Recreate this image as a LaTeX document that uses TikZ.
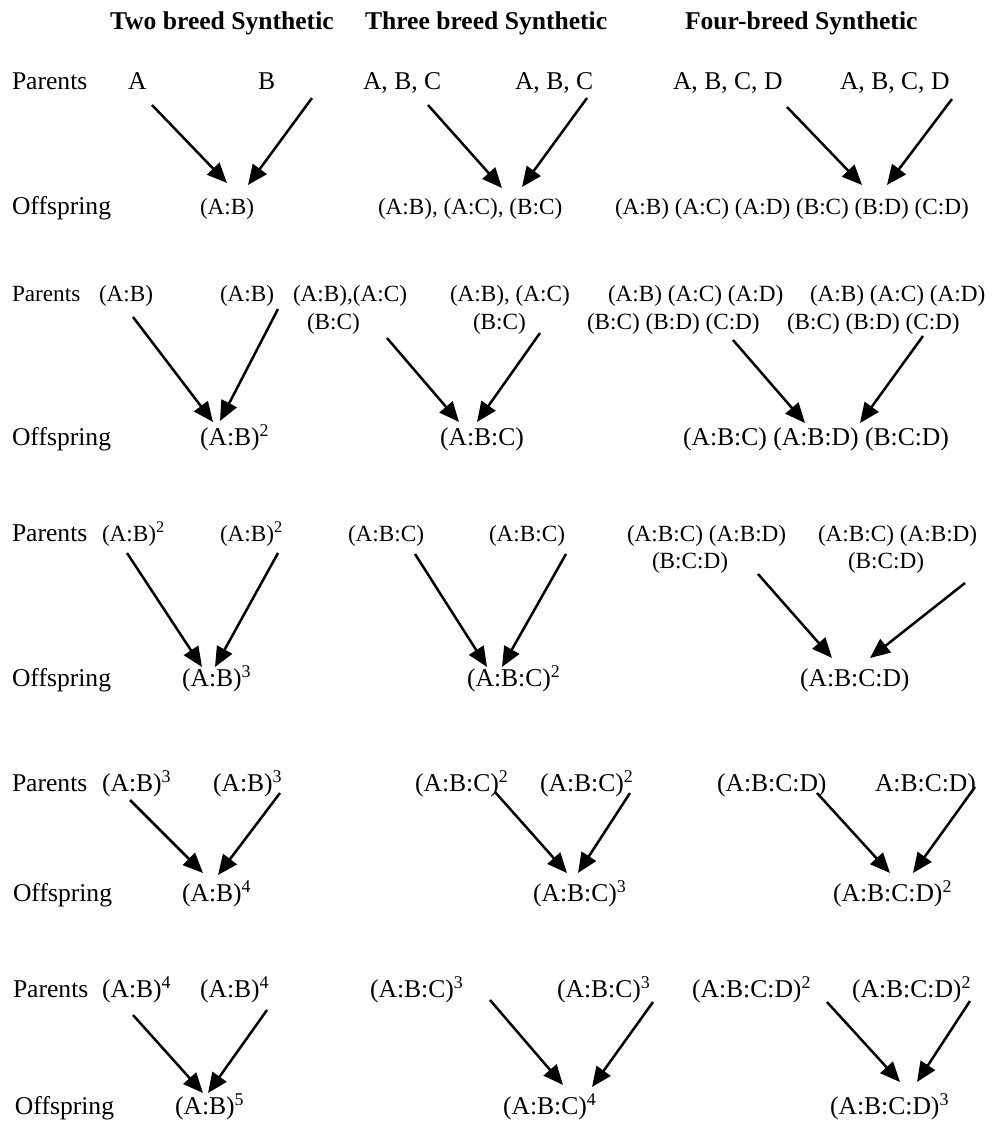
\documentclass[tikz,border=0pt]{standalone}
\usepackage{fontspec}
\setmainfont{Liberation Serif}
\usetikzlibrary{arrows.meta}
\begin{document}
\begin{tikzpicture}[x=0.5pt,y=-0.5pt,
  lbl/.style={anchor=base west,inner sep=0pt,outer sep=0pt},
  hd/.style={lbl,font=\fontsize{12.8}{14}\selectfont\bfseries},
  big/.style={lbl,font=\fontsize{12.8}{14}\selectfont},
  sm/.style={lbl,font=\fontsize{11.6}{13}\selectfont},
  arr/.style={line width=1.25pt,-{Triangle[length=10pt,width=8.5pt]}}]
\useasboundingbox (0,0) rectangle (992,1121);

% column headings
\node[hd] (h2) at (110,29) {Two breed Synthetic};
\node[hd] (h3) at (365,29) {Three breed Synthetic};
\node[hd] (h4) at (685,29) {Four-breed Synthetic};

% ---------- generation 1 ----------
\node[big] (P1) at (12,89) {Parents};
\node[big] (p1a) at (128,89) {A};
\node[big] (p1b) at (258,89) {B};
\node[big] (p1c) at (363,89) {A, B, C};
\node[big] (p1d) at (515,89) {A, B, C};
\node[big] (p1e) at (673,89) {A, B, C, D};
\node[big] (p1f) at (840,89) {A, B, C, D};
\node[big] (O1) at (12,214) {Offspring};
\node[sm] (o1a) at (200,214) {(A:B)};
\node[sm] (o1b) at (378,214) {(A:B), (A:C), (B:C)};
\node[sm] (o1c) at (615,214) {(A:B) (A:C) (A:D) (B:C) (B:D) (C:D)};

\coordinate (s1a) at (152,105); \coordinate (e1a) at (227,183);
\coordinate (s1b) at (312,98);  \coordinate (e1b) at (248,185);
\coordinate (s1c) at (428,105); \coordinate (e1c) at (502,188);
\coordinate (s1d) at (587,98);  \coordinate (e1d) at (522,187);
\coordinate (s1e) at (787,107); \coordinate (e1e) at (862,185);
\coordinate (s1f) at (952,99);  \coordinate (e1f) at (887,185);

% ---------- generation 2 ----------
\node[sm] (P2) at (12,301) {Parents};
\node[sm] (p2a) at (99,301) {(A:B)};
\node[sm] (p2b) at (220,301) {(A:B)};
\node[sm] (p2c) at (293,301) {(A:B),(A:C)};
\node[sm] (p2c2) at (307,329) {(B:C)};
\node[sm] (p2d) at (450,301) {(A:B), (A:C)};
\node[sm] (p2d2) at (473,329) {(B:C)};
\node[sm] (p2e) at (608,301) {(A:B) (A:C) (A:D)};
\node[sm] (p2e2) at (587,329) {(B:C) (B:D) (C:D)};
\node[sm] (p2f) at (810,301) {(A:B) (A:C) (A:D)};
\node[sm] (p2f2) at (787,329) {(B:C) (B:D) (C:D)};
\node[big] (O2) at (12,445) {Offspring};
\node[big] (o2a) at (200,445) {(A:B)\textsuperscript{2}};
\node[big] (o2b) at (440,445) {(A:B:C)};
\node[big] (o2c) at (683,445) {(A:B:C) (A:B:D) (B:C:D)};

\coordinate (s2a) at (133,317); \coordinate (e2a) at (213,422);
\coordinate (s2b) at (278,309); \coordinate (e2b) at (220,421);
\coordinate (s2c) at (387,338); \coordinate (e2c) at (459,422);
\coordinate (s2d) at (540,333); \coordinate (e2d) at (477,422);
\coordinate (s2e) at (733,340); \coordinate (e2e) at (805,423);
\coordinate (s2f) at (923,336); \coordinate (e2f) at (860,423);

% ---------- generation 3 ----------
\node[big] (P3) at (12,541) {Parents};
\node[sm] (p3a) at (102,541) {(A:B)\textsuperscript{2}};
\node[sm] (p3b) at (220,541) {(A:B)\textsuperscript{2}};
\node[sm] (p3c) at (348,541) {(A:B:C)};
\node[sm] (p3d) at (489,541) {(A:B:C)};
\node[sm] (p3e) at (627,541) {(A:B:C) (A:B:D)};
\node[sm] (p3e2) at (652,568) {(B:C:D)};
\node[sm] (p3f) at (818,541) {(A:B:C) (A:B:D)};
\node[sm] (p3f2) at (848,568) {(B:C:D)};
\node[big] (O3) at (12,686) {Offspring};
\node[big] (o3a) at (182,686) {(A:B)\textsuperscript{3}};
\node[big] (o3b) at (467,686) {(A:B:C)\textsuperscript{2}};
\node[big] (o3c) at (800,686) {(A:B:C:D)};

\coordinate (s3a) at (127,553); \coordinate (e3a) at (202,667);
\coordinate (s3b) at (278,553); \coordinate (e3b) at (215,667);
\coordinate (s3c) at (415,554); \coordinate (e3c) at (487,667);
\coordinate (s3d) at (566,554); \coordinate (e3d) at (502,667);
\coordinate (s3e) at (758,574); \coordinate (e3e) at (832,658);
\coordinate (s3f) at (965,583); \coordinate (e3f) at (870,658);

% ---------- generation 4 ----------
\node[big] (P4) at (12,791) {Parents};
\node[big] (p4a) at (102,791) {(A:B)\textsuperscript{3}};
\node[big] (p4b) at (213,791) {(A:B)\textsuperscript{3}};
\node[big] (p4c) at (415,791) {(A:B:C)\textsuperscript{2}};
\node[big] (p4d) at (540,791) {(A:B:C)\textsuperscript{2}};
\node[big] (p4e) at (717,791) {(A:B:C:D)};
\node[big] (p4f) at (875,791) {A:B:C:D)};
\node[big] (O4) at (13,901) {Offspring};
\node[big] (o4a) at (182,901) {(A:B)\textsuperscript{4}};
\node[big] (o4b) at (533,901) {(A:B:C)\textsuperscript{3}};
\node[big] (o4c) at (833,901) {(A:B:C:D)\textsuperscript{2}};

\coordinate (s4a) at (130,800); \coordinate (e4a) at (203,873);
\coordinate (s4b) at (280,793); \coordinate (e4b) at (218,875);
\coordinate (s4c) at (495,792); \coordinate (e4c) at (567,873);
\coordinate (s4d) at (630,793); \coordinate (e4d) at (578,873);
\coordinate (s4e) at (817,793); \coordinate (e4e) at (890,873);
\coordinate (s4f) at (975,787); \coordinate (e4f) at (913,873);

% ---------- generation 5 ----------
\node[big] (P5) at (13,997) {Parents};
\node[big] (p5a) at (102,997) {(A:B)\textsuperscript{4}};
\node[big] (p5b) at (200,997) {(A:B)\textsuperscript{4}};
\node[big] (p5c) at (370,997) {(A:B:C)\textsuperscript{3}};
\node[big] (p5d) at (557,997) {(A:B:C)\textsuperscript{3}};
\node[big] (p5e) at (692,997) {(A:B:C:D)\textsuperscript{2}};
\node[big] (p5f) at (852,997) {(A:B:C:D)\textsuperscript{2}};
\node[big] (O5) at (15,1114) {Offspring};
\node[big] (o5a) at (175,1114) {(A:B)\textsuperscript{5}};
\node[big] (o5b) at (503,1114) {(A:B:C)\textsuperscript{4}};
\node[big] (o5c) at (830,1114) {(A:B:C:D)\textsuperscript{3}};

\coordinate (s5a) at (133,1015); \coordinate (e5a) at (203,1093);
\coordinate (s5b) at (267,1010); \coordinate (e5b) at (208,1093);
\coordinate (s5c) at (490,1000); \coordinate (e5c) at (563,1085);
\coordinate (s5d) at (653,1002); \coordinate (e5d) at (592,1087);
\coordinate (s5e) at (827,1002); \coordinate (e5e) at (900,1082);
\coordinate (s5f) at (970,1001); \coordinate (e5f) at (917,1082);

% crossing arrows, parents to offspring
\foreach \g in {1,...,5}{
  \foreach \k in {a,b,c,d,e,f}{
    \draw[arr] (s\g\k) -- (e\g\k);
  }
}
\end{tikzpicture}
\end{document}
